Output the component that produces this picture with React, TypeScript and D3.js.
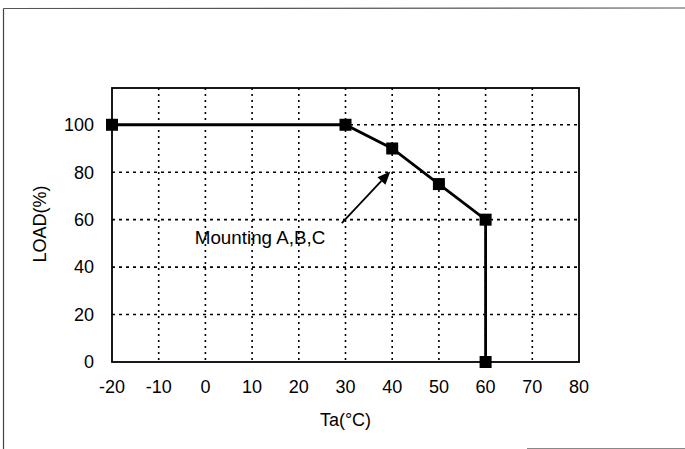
import React from "react";
import * as d3 from "d3";

const temps = [-20, 30, 40, 50, 60, 60];
const loads = [100, 100, 90, 75, 60, 0];
const xTicks = [-20, -10, 0, 10, 20, 30, 40, 50, 60, 70, 80];
const yTicks = [0, 20, 40, 60, 80, 100];
const annotationText = "Mounting A,B,C";
const arrowFrom = [29.2, 58.5];
const arrowTo = [39.6, 80.3];
const annotationPos = [11.7, 52.5];
const xLabel = "Ta(°C)";
const yLabel = "LOAD(%)";

export default function App() {
  const W = 685, H = 449;
  const left = 112, right = 579, top = 88, bottom = 362;
  const x = d3.scaleLinear().domain([-20, 80]).range([left, right]);
  const y = d3.scaleLinear().domain([0, 115.5]).range([bottom, top]);
  const pts = temps.map((t, i) => [t, loads[i]] as [number, number]);
  const line = d3.line<[number, number]>().x(d => x(d[0])).y(d => y(d[1]));
  const font = "'Liberation Sans', Arial, sans-serif";
  const fs = 18;

  const ax1 = x(arrowFrom[0]), ay1 = y(arrowFrom[1]);
  const ax2 = x(arrowTo[0]), ay2 = y(arrowTo[1]);
  const ang = Math.atan2(ay2 - ay1, ax2 - ax1);
  const hl = 13, hw = 5.5;
  const bx = ax2 - hl * Math.cos(ang), by = ay2 - hl * Math.sin(ang);
  const head = [
    [ax2, ay2],
    [bx + hw * Math.sin(ang), by - hw * Math.cos(ang)],
    [bx - hw * Math.sin(ang), by + hw * Math.cos(ang)],
  ];

  return (
    <svg width={W} height={H} style={{ position: "absolute", left: 0, top: 0, background: "#fff" }}>
      <rect x={0} y={0} width={W} height={H} fill="#fff" />
      {/* outer frame fragments */}
      <line x1={3.5} y1={8.5} x2={W} y2={8} stroke="#555" strokeWidth={1.2} />
      <line x1={3.5} y1={8.5} x2={3.5} y2={H} stroke="#444" strokeWidth={1.2} />
      <line x1={527} y1={448.5} x2={W} y2={448.5} stroke="#888" strokeWidth={1} />

      {/* grid */}
      {xTicks.slice(1, -1).map(t => (
        <line key={"gx" + t} x1={x(t)} x2={x(t)} y1={top} y2={bottom}
          stroke="#000" strokeWidth={1.6} strokeDasharray="2,4" />
      ))}
      {yTicks.slice(1).map(t => (
        <line key={"gy" + t} x1={left} x2={right} y1={y(t)} y2={y(t)}
          stroke="#000" strokeWidth={1.6} strokeDasharray="3,4" />
      ))}
      {/* plot frame */}
      <rect x={left} y={top} width={right - left} height={bottom - top} fill="none" stroke="#000" strokeWidth={1.8} />

      {/* tick labels */}
      {yTicks.map(t => (
        <text key={"yl" + t} x={94} y={y(t)} dy="0.35em" textAnchor="end"
          fontFamily={font} fontSize={fs} fill="#000">{t}</text>
      ))}
      {xTicks.map(t => (
        <text key={"xl" + t} x={x(t)} y={387} dy="0.35em" textAnchor="middle"
          fontFamily={font} fontSize={fs} fill="#000">{t}</text>
      ))}
      <text x={x(30)} y={420} dy="0.35em" textAnchor="middle" fontFamily={font} fontSize={fs} fill="#000">{xLabel}</text>
      <text transform={`translate(40,224) rotate(-90)`} dy="0.35em" textAnchor="middle"
        fontFamily={font} fontSize={fs} fill="#000">{yLabel}</text>

      {/* data line */}
      <path d={line(pts) || ""} fill="none" stroke="#000" strokeWidth={2.8} />
      {pts.map((p, i) => (
        <rect key={"m" + i} x={x(p[0]) - 6} y={y(p[1]) - 6} width={12} height={12} fill="#000" />
      ))}

      {/* annotation */}
      <line x1={ax1} y1={ay1} x2={bx} y2={by} stroke="#000" strokeWidth={1.8} />
      <polygon points={head.map(p => p.join(",")).join(" ")} fill="#000" />
      <text x={x(annotationPos[0])} y={y(annotationPos[1])} dy="0.35em" textAnchor="middle"
        fontFamily={font} fontSize={18.8} fill="#000">{annotationText}</text>
    </svg>
  );
}
